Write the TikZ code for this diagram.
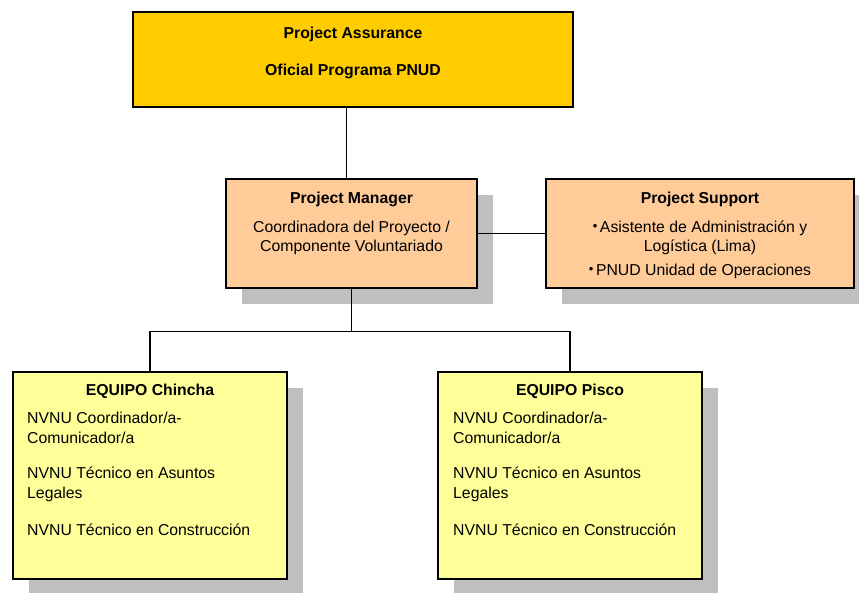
\documentclass[tikz,border=0pt]{standalone}
\usepackage{fontspec}
\setmainfont{Liberation Sans}
\usetikzlibrary{shadows,calc}

\definecolor{assurgold}{HTML}{FFCC00}
\definecolor{mgrpeach}{HTML}{FFCC99}
\definecolor{teamyellow}{HTML}{FFFF99}

\newcommand{\pbul}{\raisebox{2pt}{\fontsize{13}{13}\selectfont •}\,}

\tikzset{
  orgbox/.style={draw=black,line width=1.4pt,inner sep=0pt},
  shadowed/.style={drop shadow={shadow xshift=16pt,shadow yshift=-16pt,fill=black!25,opacity=1}},
  hdr/.style={font=\fontsize{15.8}{19}\selectfont\bfseries,anchor=base,inner sep=0pt},
  txt/.style={font=\fontsize{15.8}{19}\selectfont,anchor=base,inner sep=0pt,align=center},
  lefttxt/.style={font=\fontsize{15.8}{19.5}\selectfont,anchor=base west,inner sep=0pt,align=left},
  link/.style={draw=black,line width=1.3pt}
}

\begin{document}
\begin{tikzpicture}[x=1pt,y=-1pt]
\useasboundingbox (0,0) rectangle (859,592);

% boxes
\node[orgbox,fill=assurgold,minimum width=440pt,minimum height=95pt] (assur) at (353,59.5) {};
\node[orgbox,shadowed,fill=mgrpeach,minimum width=251pt,minimum height=109pt] (pm) at (351.5,233.5) {};
\node[orgbox,shadowed,fill=mgrpeach,minimum width=308pt,minimum height=109pt] (ps) at (700,233.5) {};
\node[orgbox,shadowed,fill=teamyellow,minimum width=274pt,minimum height=207pt] (chin) at (150,475.5) {};
\node[orgbox,shadowed,fill=teamyellow,minimum width=264pt,minimum height=207pt] (pisco) at (570,475.5) {};

% texts (two-line nodes sit on their last baseline)
\node[hdr] (assurT) at (353,38) {Project Assurance};
\node[hdr] (assurO) at (353,75) {Oficial Programa PNUD};

\node[hdr] (pmT) at (351.5,203) {Project Manager};
\node[txt] (pmD) at (351.5,251) {Coordinadora del Proyecto /\\Componente Voluntariado};

\node[hdr] (psT) at (700,203) {Project Support};
\node[txt] (psA) at (700,251) {\pbul Asistente de Administración y\\Logística (Lima)};
\node[txt] (psB) at (700,275) {\pbul PNUD Unidad de Operaciones};

\node[hdr] (chinT) at (150,395) {EQUIPO Chincha};
\node[lefttxt] (chinA) at (27,443) {NVNU Coordinador/a-\\Comunicador/a};
\node[lefttxt] (chinB) at (27,498) {NVNU Técnico en Asuntos\\Legales};
\node[lefttxt] (chinC) at (27,535) {NVNU Técnico en Construcción};

\node[hdr] (piscoT) at (570,395) {EQUIPO Pisco};
\node[lefttxt] (piscoA) at (453,443) {NVNU Coordinador/a-\\Comunicador/a};
\node[lefttxt] (piscoB) at (453,498) {NVNU Técnico en Asuntos\\Legales};
\node[lefttxt] (piscoC) at (453,535) {NVNU Técnico en Construcción};

% connectors
\coordinate (fork) at ($(pm.south)+(0,43)$);
\draw[link] ([xshift=-5pt]pm.north) -- ([xshift=-5pt]pm.north |- assur.south);
\draw[link] (pm.east) -- (ps.west);
\draw[link] (pm.south) -- (fork);
\draw[link] (chin.north) |- (fork) -| (pisco.north);
\end{tikzpicture}
\end{document}
